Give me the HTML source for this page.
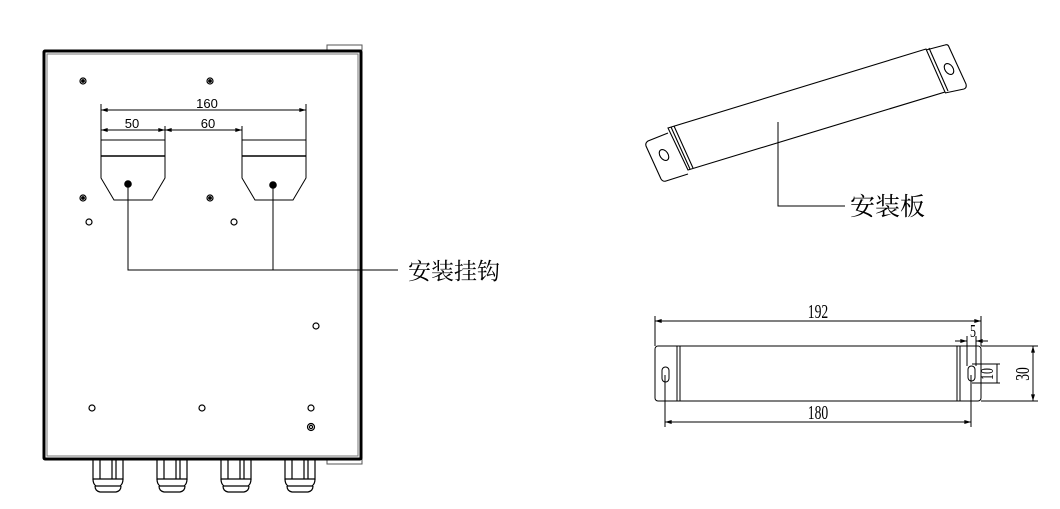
<!DOCTYPE html>
<html><head><meta charset="utf-8"><style>
html,body{margin:0;padding:0;background:#fff;}
svg{display:block;}
text{font-family:"Liberation Sans",sans-serif;fill:#000;}
.cn{font-family:"Liberation Serif","Noto Serif CJK SC","Noto Sans CJK SC",serif;}
.sr{font-family:"Liberation Serif",serif;}
</style></head><body>
<svg width="1060" height="509" viewBox="0 0 1060 509" xmlns="http://www.w3.org/2000/svg" fill="none" stroke="#000">
<defs>
<marker id="a" viewBox="0 0 10 6" refX="10" refY="3" markerWidth="10" markerHeight="4" orient="auto-start-reverse" markerUnits="userSpaceOnUse"><path d="M0,0 L10,3 L0,6z" fill="#000" stroke="none"/></marker>
</defs>
<rect x="327" y="45" width="35" height="5" stroke-width="1" stroke="#555"/>
<rect x="327" y="459" width="35" height="5" stroke-width="1" stroke="#555"/>
<rect x="44" y="51" width="317" height="408" stroke-width="3" rx="1"/>
<rect x="47" y="54" width="311" height="402" stroke-width="1" stroke="#777"/>
<g stroke-width="1.2">
<circle cx="83" cy="81" r="3"/><circle cx="83" cy="81" r="1.3" fill="#000"/>
<circle cx="210" cy="81" r="3"/><circle cx="210" cy="81" r="1.3" fill="#000"/>
<circle cx="83" cy="198" r="3"/><circle cx="83" cy="198" r="1.3" fill="#000"/>
<circle cx="210" cy="198" r="3"/><circle cx="210" cy="198" r="1.3" fill="#000"/>
<circle cx="311" cy="427" r="3.5"/><circle cx="311" cy="427" r="1.6"/>
<circle cx="89" cy="222" r="3"/><circle cx="234" cy="222" r="3"/>
<circle cx="316" cy="326" r="3"/><circle cx="92" cy="408" r="3"/>
<circle cx="202" cy="408" r="3"/><circle cx="311" cy="408" r="3"/>
</g>
<g stroke-width="1">
<path d="M101,140 V178 L114,200 H152 L165,178 V140"/><path d="M101,140 H165"/><path d="M101,156 H165" stroke-width="1.5"/>
<path d="M242,140 V178 L255,200 H293 L306,178 V140"/><path d="M242,140 H306"/><path d="M242,156 H306" stroke-width="1.5"/>
<path d="M101,104 V140 M306,104 V140 M165,126 V140 M242,126 V140"/>
<path d="M101,110 H306" marker-start="url(#a)" marker-end="url(#a)"/>
<path d="M101,130 H165" marker-start="url(#a)" marker-end="url(#a)"/>
<path d="M165,130 H242" marker-start="url(#a)" marker-end="url(#a)"/>
</g>
<circle cx="128" cy="184" r="3.3" fill="#000"/><circle cx="273" cy="185" r="3.3" fill="#000"/>
<path d="M128,184 V270 H398 M273,185 V270" stroke-width="1"/>
<text x="207" y="108" font-size="13" text-anchor="middle" stroke="none">160</text>
<text x="132" y="128" font-size="13" text-anchor="middle" stroke="none">50</text>
<text x="208" y="128" font-size="13" text-anchor="middle" stroke="none">60</text>
<text x="408" y="279" font-size="23" class="cn" stroke="none">安装挂钩</text>
<g stroke-width="1.2">
<g transform="translate(108,0)"><path d="M-15,460 V479 H15 V460 M-8,460 V479 M8,460 V479 M4,460 V479"/><path d="M-15,479 Q-15,484 -12,486 H12 Q15,484 15,479 M-13,486 Q-13,491 -8,492 H8 Q13,491 13,486"/></g>
<g transform="translate(172,0)"><path d="M-15,460 V479 H15 V460 M-8,460 V479 M8,460 V479 M4,460 V479"/><path d="M-15,479 Q-15,484 -12,486 H12 Q15,484 15,479 M-13,486 Q-13,491 -8,492 H8 Q13,491 13,486"/></g>
<g transform="translate(236,0)"><path d="M-15,460 V479 H15 V460 M-8,460 V479 M8,460 V479 M4,460 V479"/><path d="M-15,479 Q-15,484 -12,486 H12 Q15,484 15,479 M-13,486 Q-13,491 -8,492 H8 Q13,491 13,486"/></g>
<g transform="translate(300,0)"><path d="M-15,460 V479 H15 V460 M-8,460 V479 M8,460 V479 M4,460 V479"/><path d="M-15,479 Q-15,484 -12,486 H12 Q15,484 15,479 M-13,486 Q-13,491 -8,492 H8 Q13,491 13,486"/></g>
</g>
<g stroke-width="1.1">
<path d="M668,128 L926,49 L945,92 L688,170 Z"/>
<path d="M671,127 L690,169 M674,126 L693,168"/>
<path d="M929,48 L948,91"/>
<path d="M668,133 L648,141 Q645,143 646,146 L661,179 Q663,182 666,181 L688,174"/>
<path d="M926,50 L945,45 Q948,44 949,47 L966,84 Q967,88 964,89 L945,93"/>
<ellipse cx="664" cy="155" rx="4" ry="6" transform="rotate(-35 664 155)"/>
<ellipse cx="949" cy="69" rx="4" ry="6" transform="rotate(-35 949 69)"/>
</g>
<path d="M778,122 V206 H845" stroke-width="1"/>
<text x="850" y="215" font-size="25" class="cn" stroke="none">安装板</text>
<g stroke-width="1">
<rect x="655" y="346" width="326" height="55" rx="3"/>
<path d="M677,346 V401 M680,346 V401 M957,346 V401 M960,346 V401"/>
<rect x="662" y="367" width="7" height="15" rx="3.5"/>
<rect x="968" y="366" width="7" height="15" rx="3.5"/>
<path d="M655,316 V346 M981,316 V346"/>
<path d="M655,321 H981" marker-start="url(#a)" marker-end="url(#a)"/>
<path d="M665,375 V427 M971,375 V427"/>
<path d="M665,422 H971" marker-start="url(#a)" marker-end="url(#a)"/>
<path d="M981,346 H1038 M981,401 H1038"/>
<path d="M1033,346 V401" marker-start="url(#a)" marker-end="url(#a)"/>
<path d="M972,364 H1000 M972,383 H1000"/>
<path d="M997,364 V383"/>
<path d="M967,336 V366 M976,336 V366"/>
<path d="M955,341 H967" marker-end="url(#a)"/><path d="M988,341 H976" marker-end="url(#a)"/>
</g>
<text transform="translate(818,318) scale(0.85,1.25)" font-size="16" class="sr" text-anchor="middle" stroke="none">192</text>
<text transform="translate(818,419) scale(0.85,1.25)" font-size="16" class="sr" text-anchor="middle" stroke="none">180</text>
<text transform="translate(970,337) scale(0.85,1.25)" font-size="14" class="sr" stroke="none">5</text>
<text transform="translate(1029,374) rotate(-90) scale(0.85,1.25)" font-size="16" class="sr" text-anchor="middle" stroke="none">30</text>
<text transform="translate(993,374) rotate(-90) scale(0.85,1.25)" font-size="14" class="sr" text-anchor="middle" stroke="none">10</text>
</svg>
</body></html>
